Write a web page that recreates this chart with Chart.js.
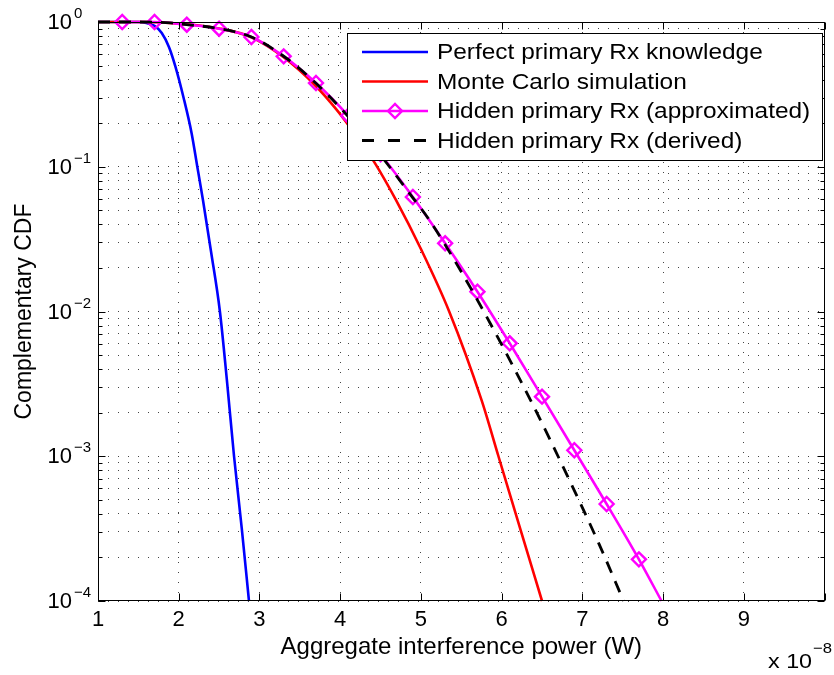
<!DOCTYPE html>
<html>
<head>
<meta charset="utf-8">
<script src="https://cdn.jsdelivr.net/npm/chart.js@4.4.0/dist/chart.umd.min.js"></script>
<style>
  html, body { margin: 0; padding: 0; background: #fff; }
  #wrap { width: 834px; height: 675px; }
</style>
</head>
<body>
<div id="wrap"><canvas id="ccdf" width="834" height="675"></canvas></div>
<script>
// x values are in units of 1e-8 W (see the "x 10^-8" multiplier)
const perfectX = [1.0, 1.5, 1.6, 1.7, 1.79, 1.88, 1.96, 2.06, 2.16, 2.23, 2.3, 2.4, 2.51, 2.6, 2.685, 2.78, 2.87];
const perfectY = [1, 1, 0.985, 0.94, 0.84, 0.67, 0.49, 0.3, 0.17, 0.1, 0.059, 0.026, 0.01, 0.0032, 0.001, 0.00032, 0.0001];

const monteX = [1.0, 1.6, 2.0, 2.5, 2.9, 3.3, 3.7, 3.96, 4.2, 4.43, 4.69, 5.0, 5.35, 5.75, 5.96, 6.25, 6.5];
const monteY = [1, 1, 0.975, 0.903, 0.785, 0.57, 0.36, 0.246, 0.163, 0.106, 0.059, 0.027, 0.01, 0.00245, 0.001, 0.00029, 0.0001];

const approxX = [1.3, 1.7, 2.1, 2.5, 2.9, 3.3, 3.7, 4.1, 4.5, 4.9, 5.3, 5.7, 6.1, 6.5, 6.9, 7.3, 7.7, 7.98];
const approxY = [1, 1, 0.958, 0.899, 0.788, 0.579, 0.379, 0.225, 0.122, 0.0618, 0.0296, 0.0137, 0.00603, 0.00258, 0.0011, 0.000468, 0.000194, 0.0001];

const derivedX = [1.0, 1.5, 1.9, 2.1, 2.5, 2.9, 3.3, 3.7, 4.1, 4.5, 4.9, 5.1, 5.5, 5.9, 6.4, 6.82, 7.2, 7.51];
const derivedY = [1, 1, 0.985, 0.96, 0.9, 0.788, 0.58, 0.377, 0.222, 0.12, 0.061, 0.0432, 0.0188, 0.0075, 0.00219, 0.00072, 0.000252, 0.0001];

const legendLabels = [
    'Perfect primary Rx knowledge',
    'Monte Carlo simulation',
    'Hidden primary Rx (approximated)',
    'Hidden primary Rx (derived)'
];

const xTicks = [1, 2, 3, 4, 5, 6, 7, 8, 9, 10];
const yDecades = [-4, -3, -2, -1, 0];
const yMantissas = [1, 2, 3, 4, 5, 6, 7, 8, 9];

const FONT = "'Liberation Sans', Arial, Helvetica, sans-serif";
const TEXT_STRETCH = 1.11; // the reference text is a little wider than Arial

// log grid: 1..9 x 10^d for each decade, closing at 10^0
const yTickValues = [];
yDecades.forEach(d => {
    if (d === 0) { yTickValues.push(1); return; }
    yMantissas.forEach(m => yTickValues.push(+(m * Math.pow(10, d)).toPrecision(3)));
});

const pts = (xs, ys) => xs.map((x, i) => ({ x, y: ys[i] }));
const nApprox = approxX.length;

const datasets = [
    {
        label: legendLabels[0], data: pts(perfectX, perfectY),
        borderColor: '#0000ff', borderWidth: 2.6, pointRadius: 0, order: 3
    },
    {
        label: legendLabels[1], data: pts(monteX, monteY),
        borderColor: '#ff0000', borderWidth: 2.6, pointRadius: 0, order: 2
    },
    {
        label: legendLabels[2], data: pts(approxX, approxY),
        borderColor: '#ff00ff', borderWidth: 2.6, order: 1,
        pointStyle: 'rectRot', pointBorderColor: '#ff00ff', pointBackgroundColor: 'rgba(0,0,0,0)',
        pointBorderWidth: 2.4,
        pointRadius: ctx => (ctx.dataIndex < nApprox - 1 ? 7 : 0)
    },
    {
        label: legendLabels[3], data: pts(derivedX, derivedY),
        borderColor: '#000000', borderWidth: 2.8, borderDash: [12, 9], pointRadius: 0, order: 0
    }
];
datasets.forEach(ds => {
    ds.showLine = true;
    ds.fill = false;
    ds.clip = false;
    ds.cubicInterpolationMode = 'monotone';
});

function stretchedText(ctx, text, x, y) {
    ctx.save();
    ctx.translate(x, y);
    ctx.scale(TEXT_STRETCH, 1);
    ctx.fillText(text, 0, 0);
    ctx.restore();
    return ctx.measureText(text).width * TEXT_STRETCH;
}

// ===== MATLAB-style frame, inward ticks, log labels, legend =====
const matlabFrame = {
    id: 'matlabFrame',
    afterDatasetsDraw(chart) {
        const { ctx, chartArea: a, scales: { x, y } } = chart;
        const L = Math.round(a.left) + 0.5, R = Math.round(a.right) - 0.5;
        const T = Math.round(a.top) + 0.5, B = Math.round(a.bottom) - 0.5;
        ctx.save();
        ctx.strokeStyle = '#000';
        ctx.lineWidth = 1;
        ctx.setLineDash([]);
        ctx.beginPath();
        xTicks.forEach(v => {
            const px = Math.round(x.getPixelForValue(v)) + 0.5;
            ctx.moveTo(px, B); ctx.lineTo(px, B - 7);
            ctx.moveTo(px, T); ctx.lineTo(px, T + 7);
        });
        yTickValues.forEach(v => {
            const py = Math.round(y.getPixelForValue(v)) + 0.5;
            const len = Math.abs(Math.log10(v) - Math.round(Math.log10(v))) < 1e-6 ? 7 : 4;
            ctx.moveTo(L, py); ctx.lineTo(L + len, py);
            ctx.moveTo(R, py); ctx.lineTo(R - len, py);
        });
        ctx.stroke();
        ctx.strokeRect(L, T, R - L, B - T);

        // legend
        const box = { left: 347.5, top: 33.5, right: 822.5, bottom: 160.5 };
        ctx.fillStyle = '#fff';
        ctx.fillRect(box.left, box.top, box.right - box.left, box.bottom - box.top);
        ctx.strokeRect(box.left, box.top, box.right - box.left, box.bottom - box.top);
        const rowY = [52, 81.5, 111, 140.5];
        ctx.font = '22px ' + FONT;
        ctx.textBaseline = 'middle';
        ctx.textAlign = 'left';
        chart.data.datasets.forEach((ds, i) => {
            const yy = rowY[i];
            ctx.save();
            ctx.strokeStyle = ds.borderColor;
            ctx.lineWidth = ds.borderWidth;
            ctx.setLineDash(ds.borderDash ? [12, 14] : []);
            ctx.beginPath();
            ctx.moveTo(362, yy); ctx.lineTo(428, yy);
            ctx.stroke();
            if (ds.pointStyle) {
                ctx.setLineDash([]);
                ctx.lineWidth = ds.pointBorderWidth;
                ctx.beginPath();
                ctx.moveTo(395 - 7, yy); ctx.lineTo(395, yy - 7);
                ctx.lineTo(395 + 7, yy); ctx.lineTo(395, yy + 7);
                ctx.closePath();
                ctx.stroke();
            }
            ctx.restore();
            ctx.fillStyle = '#000';
            stretchedText(ctx, ds.label, 437, yy + 1);
        });
        ctx.restore();
    },
    afterDraw(chart) {
        const { ctx, scales: { y } } = chart;
        ctx.save();
        ctx.fillStyle = '#000';
        ctx.textBaseline = 'middle';
        yDecades.forEach(d => {
            const py = y.getPixelForValue(Math.pow(10, d));
            ctx.font = '22px ' + FONT;
            ctx.textAlign = 'right';
            ctx.fillText('10', 72, py + 1);
            ctx.font = '15px ' + FONT;
            ctx.textAlign = 'left';
            ctx.fillText(d === 0 ? '0' : '\u2212' + (-d), 74, py - 8);
        });
        // axis multiplier
        ctx.textBaseline = 'alphabetic';
        ctx.font = '21px ' + FONT;
        const w = stretchedText(ctx, 'x 10', 768, 668);
        ctx.font = '15px ' + FONT;
        stretchedText(ctx, '\u22128', 768 + w + 1, 653);
        ctx.restore();
    }
};

new Chart(document.getElementById('ccdf'), {
    type: 'scatter',
    data: { datasets },
    options: {
        responsive: false,
        animation: false,
        devicePixelRatio: 1,
        layout: { padding: { top: 22, right: 1, left: 0, bottom: 0 } },
        plugins: { legend: { display: false }, tooltip: { enabled: false } },
        scales: {
            x: {
                type: 'linear', min: 1, max: 10,
                afterBuildTicks: s => { s.ticks = xTicks.map(v => ({ value: v })); },
                afterFit: s => { s.height = 74; },
                ticks: {
                    color: '#000', padding: 6, maxRotation: 0,
                    font: { family: FONT, size: 22 },
                    callback: v => (v === 10 ? '' : String(v))
                },
                grid: { color: '#444', lineWidth: 1, drawTicks: false },
                border: { display: false, dash: [1, 9] },
                title: {
                    display: true, text: 'Aggregate interference power (W)', color: '#000',
                    font: { family: FONT, size: 24 }, padding: { top: 0, bottom: 13 }
                }
            },
            y: {
                type: 'logarithmic', min: 0.0001, max: 1,
                afterBuildTicks: s => { s.ticks = yTickValues.map(v => ({ value: v })); },
                afterFit: s => { s.width = 98; },
                ticks: { display: false },
                grid: { color: '#444', lineWidth: 1, drawTicks: false },
                border: { display: false, dash: [1, 9] },
                title: {
                    display: true, text: 'Complementary CDF', color: '#000',
                    font: { family: FONT, size: 23 }, padding: { top: 11, bottom: 0 }
                }
            }
        }
    },
    plugins: [matlabFrame]
});
</script>
</body>
</html>
